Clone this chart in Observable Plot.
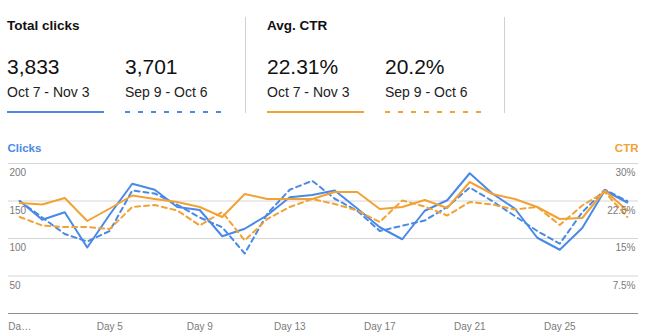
<!DOCTYPE html>
<html>
<head>
<meta charset="utf-8">
<script src="https://cdn.jsdelivr.net/npm/d3@7"></script>
<script src="https://cdn.jsdelivr.net/npm/@observablehq/plot@0.6"></script>
<style>
  html, body { margin: 0; padding: 0; background: #fff; }
  body { font-family: Arial, "Liberation Sans", Helvetica, sans-serif; }
  #wrap { position: relative; width: 650px; height: 336px; overflow: hidden; }
  #head { position: relative; width: 650px; height: 135px; }
  .t { position: absolute; white-space: nowrap; color: #222; line-height: 1; }
  .metric { font-size: 13.5px; font-weight: bold; color: #111; }
  .num { font-size: 21px; color: #111; }
  .per { font-size: 14px; color: #222; }
  .sep { position: absolute; width: 1px; background: #d0d0d0; top: 17px; height: 96px; }
  .leg { position: absolute; height: 2px; width: 97px; top: 111px; }
  #chart svg { display: block; }
</style>
</head>
<body>
<div id="wrap">
  <div id="head"></div>
  <div id="chart"></div>
</div>
<script>
// ---- data ----
const days = [1,2,3,4,5,6,7,8,9,10,11,12,13,14,15,16,17,18,19,20,21,22,23,24,25,26,27,28];
const clicksCurrent  = [150,125,135,88,132,173,165,142,138,103,113,131,155,158,164,140,115,99,137,151,187,160,140,101,85,114,164,148];
const clicksPrevious = [150,128,106,96,110,164,160,145,128,115,80,133,165,177,153,137,110,117,124,142,168,150,130,110,93,135,165,150];
const ctrCurrent     = [22.1,21.8,23.1,18.5,21.0,23.6,22.9,22.3,21.3,19.3,23.9,22.9,22.9,22.9,24.3,24.3,20.9,21.3,22.7,21.1,26.3,23.9,22.9,21.3,18.9,19.1,24.6,20.6];
const ctrPrevious    = [19.3,17.6,17.3,17.3,16.9,21.3,21.7,20.6,17.6,20.3,14.6,18.9,21.3,22.9,21.9,20.6,18.3,22.6,21.4,19.6,22.3,21.8,20.8,21.3,17.7,21.6,24.3,19.3];

const clickTicks = [50,100,150,200];
const ctrTicks = [7.5,15,22.5,30];
const ctrTickLabels = ["7.5%","15%","22.5%","30%"];
const dayTicks = [1,5,9,13,17,21,25];
const dayTickLabels = ["Da\u2026","Day 5","Day 9","Day 13","Day 17","Day 21","Day 25"];

const metricNames = ["Total clicks","Avg. CTR"];
const metricValues = ["3,833","3,701","22.31%","20.2%"];
const periods = ["Oct 7 - Nov 3","Sep 9 - Oct 6"];

const BLUE = "#4a89e6";
const ORANGE = "#f2a233";

// ---- header (summary legend) ----
const head = document.getElementById("head");
const colX = [7,125,267,385];
function addText(cls, txt, left, top, color) {
  const d = document.createElement("div");
  d.className = "t " + cls;
  d.textContent = txt;
  d.style.left = left + "px";
  d.style.top = top + "px";
  if (color) d.style.color = color;
  head.appendChild(d);
}
addText("metric", metricNames[0], colX[0], 18.6);
addText("metric", metricNames[1], colX[2], 18.6);
metricValues.forEach((v, i) => {
  addText("num", v, colX[i], 56.2);
  addText("per", periods[i % 2], colX[i], 84.9);
  const l = document.createElement("div");
  l.className = "leg";
  l.style.left = colX[i] + "px";
  const c = i < 2 ? BLUE : ORANGE;
  if (i % 2 === 0) l.style.background = c;
  else l.style.background = `repeating-linear-gradient(to right, ${c} 0 5px, transparent 5px 13px)`;
  head.appendChild(l);
});
[245, 504].forEach(x => {
  const s = document.createElement("div");
  s.className = "sep";
  s.style.left = x + "px";
  head.appendChild(s);
});

// ---- chart ----
const k = 200 / 30; // CTR (0-30%) shares the click axis (0-200)
const rows = days.map((d, i) => ({
  day: d,
  clicksCurrent: clicksCurrent[i],
  clicksPrevious: clicksPrevious[i],
  ctrCurrent: ctrCurrent[i],
  ctrPrevious: ctrPrevious[i]
}));

const font = 'Arial, "Liberation Sans", Helvetica, sans-serif';
const chart = Plot.plot({
  width: 650,
  height: 201,
  marginTop: 28,
  marginBottom: 23,
  marginLeft: 8,
  marginRight: 12,
  style: { fontFamily: font, background: "#fff", overflow: "visible" },
  x: { domain: [0.5, 28.5], axis: null },
  y: { domain: [0, 200], axis: null },
  marks: [
    Plot.ruleY(clickTicks, { stroke: "#d6d6d6", strokeWidth: 1 }),
    Plot.ruleY([0], { stroke: "#8f8f8f", strokeWidth: 1 }),
    Plot.lineY(rows, { x: "day", y: "clicksCurrent", stroke: BLUE, strokeWidth: 2 }),
    Plot.lineY(rows, { x: "day", y: "clicksPrevious", stroke: BLUE, strokeWidth: 2, strokeDasharray: "5,4" }),
    Plot.lineY(rows, { x: "day", y: d => d.ctrCurrent * k, stroke: ORANGE, strokeWidth: 2 }),
    Plot.lineY(rows, { x: "day", y: d => d.ctrPrevious * k, stroke: ORANGE, strokeWidth: 2, strokeDasharray: "5,4" }),
    // left axis labels
    Plot.text(clickTicks, { y: d => d, text: d => String(d), frameAnchor: "left", textAnchor: "start", lineAnchor: "bottom", dx: 1, dy: 12.5, fontSize: 10, fill: "#7a7a7a" }),
    // right axis labels
    Plot.text(ctrTicks, { y: d => d * k, text: (d, i) => ctrTickLabels[i], frameAnchor: "right", textAnchor: "end", lineAnchor: "bottom", dx: -3, dy: 12.5, fontSize: 10, fill: "#7a7a7a" }),
    // x labels
    Plot.text(dayTicks, { x: d => d, text: (d, i) => dayTickLabels[i], frameAnchor: "bottom", lineAnchor: "bottom", dy: 16, fontSize: 10, fill: "#7a7a7a" }),
    // axis titles
    Plot.text(["Clicks"], { frameAnchor: "top-left", textAnchor: "start", lineAnchor: "bottom", dx: -1, dy: -11.3, fontSize: 11.5, fontWeight: "bold", fill: BLUE }),
    Plot.text(["CTR"], { frameAnchor: "top-right", textAnchor: "end", lineAnchor: "bottom", dy: -11.3, fontSize: 11.5, fontWeight: "bold", fill: ORANGE })
  ]
});
document.getElementById("chart").appendChild(chart);
</script>
</body>
</html>
